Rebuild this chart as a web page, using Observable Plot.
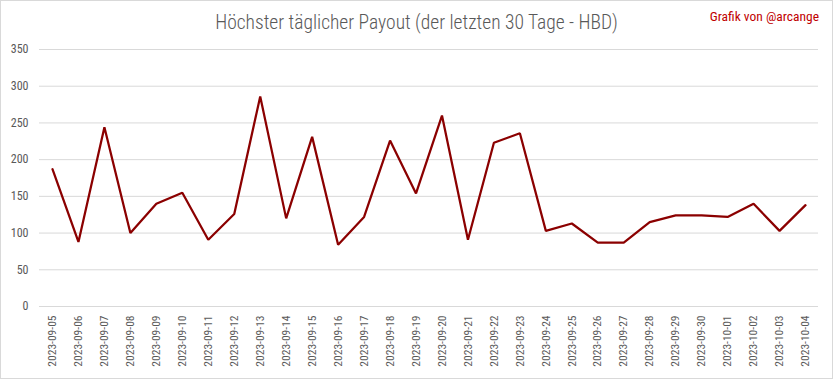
<!DOCTYPE html>
<html>
<head>
<meta charset="utf-8">
<script src="https://cdn.jsdelivr.net/npm/d3@7"></script>
<script src="https://cdn.jsdelivr.net/npm/@observablehq/plot@0.6"></script>
<style>
  html, body { margin: 0; padding: 0; background: #fff; }
  #chart { position: relative; width: 833px; height: 379px; box-sizing: border-box; border: 1px solid #d9d9d9; background: #fff; overflow: hidden; font-family: "Liberation Sans Narrow", "Roboto Condensed", Roboto, sans-serif; }
  #title { position: absolute; left: 0; right: 0; top: 10px; text-align: center; font-size: 19.5px; color: #595959; font-weight: 300; }
  #credit { position: absolute; right: 13px; top: 7px; font-size: 13.5px; color: #c00000; }
  #chart svg { position: absolute; left: 0; top: 0; }
</style>
</head>
<body>
<div id="chart">
  <div id="title">Höchster täglicher Payout (der letzten 30 Tage - HBD)</div>
  <div id="credit">Grafik von @arcange</div>
</div>
<script>
const dates = ["2023-09-05","2023-09-06","2023-09-07","2023-09-08","2023-09-09","2023-09-10","2023-09-11","2023-09-12","2023-09-13","2023-09-14","2023-09-15","2023-09-16","2023-09-17","2023-09-18","2023-09-19","2023-09-20","2023-09-21","2023-09-22","2023-09-23","2023-09-24","2023-09-25","2023-09-26","2023-09-27","2023-09-28","2023-09-29","2023-09-30","2023-10-01","2023-10-02","2023-10-03","2023-10-04"];
const payouts = [187, 88, 244, 100, 140, 155, 91, 126, 286, 120, 231, 84, 122, 226, 154, 260, 91, 223, 236, 103, 113, 87, 87, 115, 124, 124, 122, 140, 103, 138];
const yTicks = [0, 50, 100, 150, 200, 250, 300, 350];

const data = dates.map((d, i) => ({date: d, value: payouts[i]}));
const font = '"Liberation Sans Narrow", "Roboto Condensed", Roboto, sans-serif';

const chart = Plot.plot({
  width: 831,
  height: 377,
  marginLeft: 38,
  marginRight: 14,
  marginTop: 48,
  marginBottom: 72,
  style: {fontFamily: font, fontSize: "12px", color: "#595959", background: "transparent"},
  x: {type: "point", domain: dates, padding: 0.5, round: false, label: null},
  y: {domain: [0, 350], label: null},
  marks: [
    Plot.ruleY(yTicks, {stroke: "#d9d9d9", strokeWidth: 1}),
    Plot.axisY(yTicks, {tickSize: 0, tickPadding: 11, fontSize: 12, fill: "#595959", label: null}),
    Plot.axisX({tickSize: 0, tickPadding: 9, tickRotate: -90, fontSize: 11.5, fill: "#595959", label: null}),
    Plot.line(data, {x: "date", y: "value", stroke: "#8b0000", strokeWidth: 2.25, strokeLinejoin: "miter"})
  ]
});
document.getElementById("chart").appendChild(chart);
</script>
</body>
</html>
